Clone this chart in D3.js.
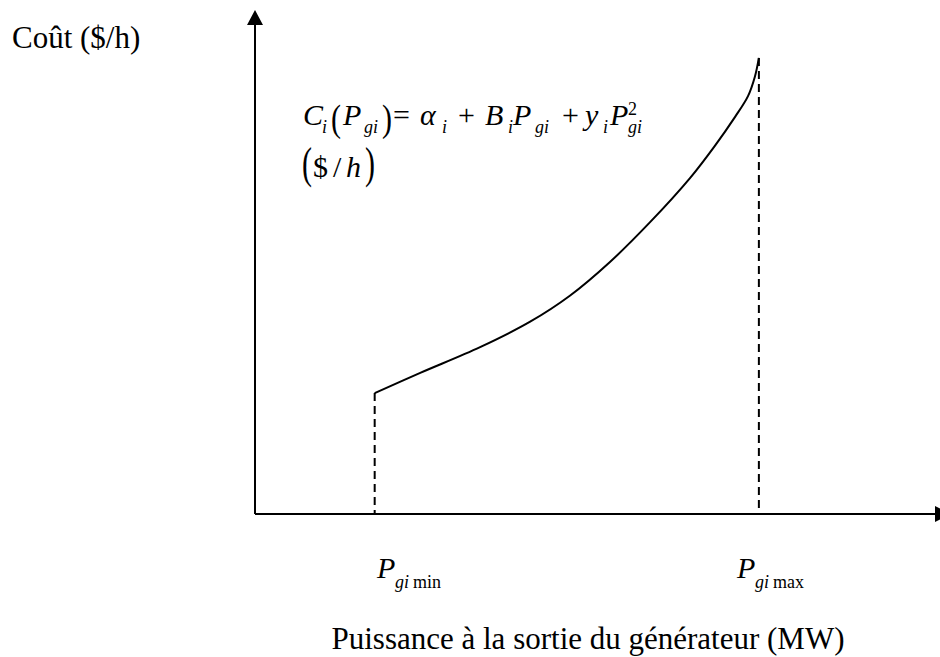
<!DOCTYPE html>
<html><head><meta charset="utf-8">
<script src="https://cdn.jsdelivr.net/npm/d3@7"></script>
<style>body{margin:0;background:#fff}svg{display:block}</style>
</head><body>
<svg id="chart" width="940" height="657"></svg>
<script>
// ---- data (abstract units, x: power 0..100, y: cost 0..100) ----
const powerValues = [17.6, 24.3, 33.1, 40.4, 46.3, 52.2, 58.1, 64.0, 67.6, 70.6, 72.5, 73.5, 74.1];
const costValues  = [24.0, 28.0, 33.1, 38.1, 43.3, 50.0, 57.9, 66.7, 73.0, 78.8, 82.9, 86.7, 90.5];
const pMin = 17.6, pMax = 74.1;
const yLabel = "Coût ($/h)";
const xLabel = "Puissance à la sortie du générateur (MW)";

const svg = d3.select("#chart");
const serif = "'Liberation Serif','Times New Roman',serif";

const x = d3.scaleLinear().domain([0, 100]).range([255, 935]);
const y = d3.scaleLinear().domain([0, 100]).range([514, 10]);

// axes
svg.append("line").attr("x1", x(0)).attr("y1", y(0)).attr("x2", x(0)).attr("y2", y(97))
  .attr("stroke", "#000").attr("stroke-width", 2);
svg.append("path").attr("d", `M${x(0)},${y(100)} L${x(0)-8},${y(97)} L${x(0)+8},${y(97)} Z`).attr("fill", "#000");
svg.append("line").attr("x1", x(0)).attr("y1", y(0)).attr("x2", x(100)).attr("y2", y(0))
  .attr("stroke", "#000").attr("stroke-width", 2);
svg.append("path").attr("d", `M${x(100)},${y(0)-8} L${x(100)+16},${y(0)} L${x(100)},${y(0)+8} Z`).attr("fill", "#000");

// dashed guides
const guides = [[pMin, costValues[0]], [pMax, costValues[costValues.length-1]]];
svg.selectAll("line.guide").data(guides).enter().append("line").attr("class","guide")
  .attr("x1", d => x(d[0])).attr("x2", d => x(d[0]))
  .attr("y1", d => y(d[1])).attr("y2", y(0))
  .attr("stroke", "#000").attr("stroke-width", 2).attr("stroke-dasharray", "8,5");

// cost curve
const pts = powerValues.map((p, i) => [p, costValues[i]]);
svg.append("path").datum(pts)
  .attr("d", d3.line().x(d => x(d[0])).y(d => y(d[1])).curve(d3.curveCatmullRom.alpha(0.5)))
  .attr("fill", "none").attr("stroke", "#000").attr("stroke-width", 2);

function t(txt, px, py, size, italic, anchor) {
  return svg.append("text").attr("x", px).attr("y", py).text(txt)
    .attr("font-family", serif).attr("font-size", size)
    .attr("font-style", italic ? "italic" : "normal")
    .attr("text-anchor", anchor || "start").attr("fill", "#000");
}
// tall parenthesis: vertically stretched glyph
function paren(ch, px, py, sy) {
  svg.append("text").attr("transform", `translate(${px},${py}) scale(1,${sy})`)
    .text(ch).attr("font-family", serif).attr("font-size", 30).attr("fill", "#000");
}

// axis titles
t(yLabel, 12, 48, 31, false);
t(xLabel, 588, 649, 31, false, "middle");

// formula line 1
const B = 125, S = 133;
t("C", 303, B, 30, true); t("i", 322, S, 18, true);
paren("(", 331, 131, 1.28);
t("P", 343, B, 30, true); t("gi", 364, S, 18, true);
paren(")", 382, 131, 1.28);
t("=", 393, B, 30, false);
t("α", 420, B, 30, true); t("i", 442, S, 18, true);
t("+", 458, B, 30, false);
t("B", 485, B, 30, true); t("i", 508, S, 18, true);
t("P", 513, B, 30, true); t("gi", 535, S, 18, true);
t("+", 562, B, 30, false);
t("y", 585, B, 30, true); t("i", 603, S, 18, true);
t("P", 610, B, 30, true); t("gi", 628, S, 18, true); t("2", 628, 115, 18, false);
// formula line 2
paren("(", 302, 178, 1.5);
t("$", 313, 177, 30, false);
t("/", 333, 177, 30, false);
t("h", 346, 177, 30, true);
paren(")", 365, 178, 1.5);

// Pmin / Pmax labels
t("P", 377, 578, 30, true); t("gi", 395, 588, 18, true); t("min", 413, 588, 18, false);
t("P", 737, 578, 30, true); t("gi", 755, 588, 18, true); t("max", 773, 588, 18, false);
</script>
</body></html>
